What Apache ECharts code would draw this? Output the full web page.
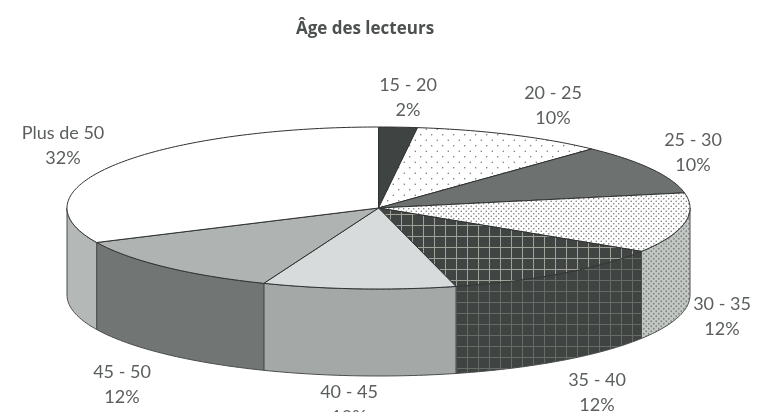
<!DOCTYPE html>
<html>
<head>
<meta charset="utf-8">
<script src="https://cdn.jsdelivr.net/npm/echarts@6/dist/echarts.min.js"></script>
<style>
  html, body { margin: 0; padding: 0; background: #fff; overflow: hidden; }
  #chart { width: 761px; height: 412px; }
</style>
</head>
<body>
<div id="chart"></div>
<script>
const chartTitle = 'Âge des lecteurs';
const categories = ['15 - 20', '20 - 25', '25 - 30', '30 - 35', '35 - 40', '40 - 45', '45 - 50', 'Plus de 50'];
const shares = [2, 10, 10, 12, 12, 10, 12, 32];

// layout of the tilted pie, in pixels
const cx = 378.5, cy = 208, rx = 311.5, ry = 81, depth = 87;
const labelCenters = [[408, 98], [553, 105.5], [693, 153], [722, 316.5], [597, 392.5], [349, 405], [122, 385], [63, 146]];

function pattern(bg, size, draw) {
  const c = document.createElement('canvas');
  c.width = size[0];
  c.height = size[1];
  const g = c.getContext('2d');
  g.fillStyle = bg;
  g.fillRect(0, 0, size[0], size[1]);
  draw(g);
  return { image: c, repeat: 'repeat' };
}
function dots(bg, dot, w, h, r) {
  return pattern(bg, [w, h], function (g) {
    g.fillStyle = dot;
    g.beginPath();
    g.arc(w / 4, h / 4, r, 0, Math.PI * 2);
    g.arc(w * 3 / 4, h * 3 / 4, r, 0, Math.PI * 2);
    g.fill();
  });
}
function grid(bg, line) {
  return pattern(bg, [11, 11], function (g) {
    g.fillStyle = line;
    g.fillRect(5, 0, 1, 11);
    g.fillRect(0, 5, 11, 1);
  });
}

const topFills = ['#3f4443', dots('#fff', '#666', 11, 11, 0.7), '#6d716f', dots('#fff', '#777', 5, 5, 0.8),
  grid('#404543', '#a0a29a'), '#d7dbdc', '#afb3b1', '#ffffff'];
const wallFills = ['#3f4443', '#888888', '#6d716f', dots('#c4c8c5', '#80857f', 5, 5, 0.9),
  grid('#3f4442', '#686b63'), '#a4a8a6', '#717674', '#b4b8b6'];

function ellipsePoint(deg, dy) {
  const t = deg * Math.PI / 180;
  return [cx + rx * Math.sin(t), cy - ry * Math.cos(t) + (dy || 0)];
}
function arcPoints(a, b, dy) {
  const pts = [];
  const n = Math.max(2, Math.ceil(Math.abs(b - a)));
  for (let i = 0; i <= n; i++) pts.push(ellipsePoint(a + (b - a) * i / n, dy));
  return pts;
}

const total = shares.reduce((s, v) => s + v, 0);
const starts = [];
shares.reduce((s, v, i) => { starts[i] = s; return s + v; }, 0);

function renderSlice(params, api) {
  const i = params.dataIndex;
  const a = starts[i] / total * 360;
  const b = a + api.value(0) / total * 360;
  const children = [];

  // the wall only shows on the front half
  const wa = Math.max(a, 90), wb = Math.min(b, 270);
  if (wb > wa) {
    children.push({
      type: 'polygon',
      shape: { points: arcPoints(wa, wb, 0).concat(arcPoints(wb, wa, depth)) },
      style: { fill: wallFills[i], stroke: '#4a4d4c', lineWidth: 1 }
    });
  }
  children.push({
    type: 'polygon',
    z2: 5,
    shape: { points: [[cx, cy]].concat(arcPoints(a, b, 0)) },
    style: { fill: topFills[i], stroke: '#2f3231', lineWidth: 1, lineJoin: 'round' }
  });
  children.push({
    type: 'text',
    z2: 10,
    style: {
      text: categories[i] + '\n' + api.value(0) + '%',
      x: labelCenters[i][0],
      y: labelCenters[i][1],
      align: 'center',
      verticalAlign: 'middle',
      lineHeight: 25,
      font: '18px Lato',
      fill: '#5a5e5d'
    }
  });
  return { type: 'group', children: children };
}

const chart = echarts.init(document.getElementById('chart'));
chart.setOption({
  animation: false,
  backgroundColor: '#fff',
  title: {
    text: chartTitle,
    left: 360,
    top: 16,
    textAlign: 'center',
    textStyle: { fontFamily: 'Open Sans', fontSize: 17, fontWeight: 'bold', color: '#4c5150' }
  },
  series: [
    {
      type: 'custom',
      coordinateSystem: 'none',
      clip: false,
      data: shares.map((v, i) => ({ name: categories[i], value: [v] })),
      renderItem: renderSlice
    }
  ]
});
</script>
</body>
</html>
